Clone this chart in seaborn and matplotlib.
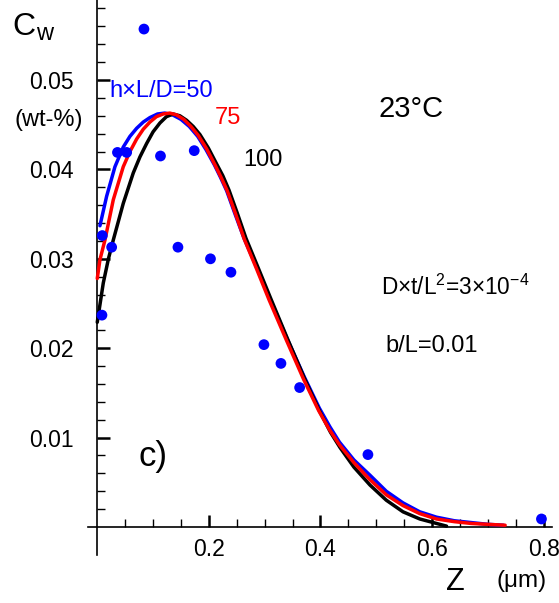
import matplotlib
matplotlib.use("Agg")
import matplotlib.pyplot as plt
import seaborn as sns
import pandas as pd
from matplotlib.ticker import FixedLocator

# ---------------- data ----------------
dot_z = [0.0837, 0.0362, 0.0527, 0.1133, 0.1738, 0.0090, 0.0258, 0.1446,
         0.2029, 0.2396, 0.0084, 0.2987, 0.3292, 0.3627, 0.4851, 0.7961]
dot_cw = [0.0557, 0.0419, 0.0419, 0.0415, 0.0421, 0.0326, 0.0313, 0.0313,
          0.0300, 0.0285, 0.0237, 0.0204, 0.0183, 0.0156, 0.0081, 0.0009]

blue_z = [0.0048, 0.0168, 0.0317, 0.0466, 0.0586, 0.0706, 0.0825, 0.0944, 0.108,
          0.121, 0.135, 0.150, 0.165, 0.180, 0.195, 0.210, 0.221, 0.232, 0.247,
          0.263, 0.286, 0.309, 0.340, 0.371, 0.398, 0.417, 0.434, 0.460, 0.4887,
          0.518, 0.548, 0.578, 0.608, 0.640, 0.670, 0.700, 0.728]
blue_cw = [0.0337, 0.0370, 0.0403, 0.0425, 0.0437, 0.0446, 0.0453, 0.0458, 0.0462,
           0.0463, 0.0461, 0.0456, 0.0448, 0.0437, 0.0422, 0.0405, 0.0391, 0.0376, 0.0350,
           0.0323, 0.0290, 0.0256, 0.0211, 0.0168, 0.0133, 0.0112, 0.0095, 0.0075, 0.0058,
           0.0040, 0.0027, 0.0017, 0.0011, 0.0007, 0.0005, 0.0003, 0.0002]

red_z = [0.000, 0.0048, 0.0138, 0.0287, 0.0466, 0.0586, 0.0706, 0.0825, 0.0944,
         0.106, 0.118, 0.130, 0.142, 0.155, 0.168, 0.181, 0.196, 0.211, 0.222,
         0.233, 0.248, 0.2635, 0.286, 0.308, 0.339, 0.370, 0.397, 0.416, 0.434,
         0.460, 0.4887, 0.518, 0.548, 0.578, 0.608, 0.640, 0.670, 0.700, 0.731]
red_cw = [0.0278, 0.0299, 0.0321, 0.0366, 0.0403, 0.0420, 0.0434, 0.0445, 0.0453,
          0.0459, 0.0462, 0.0463, 0.0461, 0.0456, 0.0448, 0.0438, 0.0423, 0.0405, 0.0391,
          0.0376, 0.0350, 0.0322, 0.0288, 0.0254, 0.0209, 0.0165, 0.0130, 0.0109, 0.0092,
          0.0072, 0.0053, 0.0036, 0.0024, 0.0015, 0.0009, 0.0006, 0.0004, 0.0003, 0.0002]

black_z = [0.000, 0.0108, 0.020, 0.0287, 0.0466, 0.0645, 0.0765, 0.0885, 0.100,
           0.1124, 0.124, 0.136, 0.148, 0.160, 0.172, 0.184, 0.199, 0.214, 0.225,
           0.236, 0.251, 0.2665, 0.289, 0.3113, 0.342, 0.3722, 0.399, 0.418, 0.435,
           0.460, 0.4887, 0.518, 0.548, 0.578, 0.608, 0.626]
black_cw = [0.0229, 0.0273, 0.0300, 0.0321, 0.0362, 0.0396, 0.0414, 0.0429, 0.0442,
            0.0452, 0.0459, 0.0462, 0.0460, 0.0455, 0.0448, 0.0439, 0.0424, 0.0406, 0.0393,
            0.0377, 0.0351, 0.0323, 0.0289, 0.0255, 0.0209, 0.0165, 0.0129, 0.0106, 0.0089,
            0.0067, 0.0047, 0.0030, 0.0017, 0.0009, 0.0004, 0.0001]

series_names = ["50", "100", "75"]          # draw order: blue, black, red on top
series_colors = {"50": "#0000ff", "75": "#ff0000", "100": "#000000"}

y_ticks = [0.01, 0.02, 0.03, 0.04, 0.05]
y_tick_labels = ["0.01", "0.02", "0.03", "0.04", "0.05"]
x_ticks = [0.2, 0.4, 0.6, 0.8]
x_tick_labels = ["0.2", "0.4", "0.6", "0.8"]

# ---------------- figure ----------------
sns.set_theme(style="white")
plt.rcParams['font.family'] = ['Liberation Sans', 'DejaVu Sans']
plt.rcParams['mathtext.fontset'] = 'custom'
plt.rcParams['mathtext.rm'] = 'Liberation Sans'
plt.rcParams['mathtext.it'] = 'Liberation Sans'
plt.rcParams['mathtext.bf'] = 'Liberation Sans'

W, H = 559, 603
fig = plt.figure(figsize=(W / 100, H / 100), dpi=100)
fig.patch.set_facecolor("white")
ax = fig.add_axes([88 / W, 1 - 555 / H, (552 - 88) / W, 555 / H])
ax.set_facecolor("white")

df = pd.concat([
    pd.DataFrame({"z": blue_z, "cw": blue_cw, "s": "50"}),
    pd.DataFrame({"z": black_z, "cw": black_cw, "s": "100"}),
    pd.DataFrame({"z": red_z, "cw": red_cw, "s": "75"}),
], ignore_index=True)

sns.lineplot(data=df, x="z", y="cw", hue="s", hue_order=series_names,
             palette=series_colors, sort=False, estimator=None,
             linewidth=2.5, legend=False, ax=ax, zorder=3)
for line in ax.lines:
    line.set_solid_joinstyle("round")
sns.scatterplot(x=dot_z, y=dot_cw, color="#0000ff", s=60, edgecolor="none",
                linewidth=0, ax=ax, zorder=5)

ax.set_xlim(-0.0166, 0.8150)
ax.set_ylim(-0.00313, 0.05895)

for side in ("top", "right"):
    ax.spines[side].set_visible(False)
ax.spines["left"].set_position(("data", 0))
ax.spines["bottom"].set_position(("data", 0))
for side in ("left", "bottom"):
    ax.spines[side].set_color("black")
    ax.spines[side].set_linewidth(1.2)

ax.set_yticks(y_ticks, labels=y_tick_labels)
ax.set_xticks(x_ticks, labels=x_tick_labels)
ax.yaxis.set_minor_locator(FixedLocator([i * 0.002 for i in range(1, 30) if i % 5 != 0]))
ax.xaxis.set_minor_locator(FixedLocator([i * 0.05 for i in range(1, 16) if i % 4 != 0]))
ax.tick_params(axis="y", which="major", direction="in", length=9.5, width=1.8,
               pad=17, labelsize=16.5, colors="black", left=True)
ax.tick_params(axis="y", which="minor", direction="in", length=6, width=1.0,
               left=True, colors="black")
ax.tick_params(axis="x", which="major", direction="in", length=9, width=1.8,
               pad=8, labelsize=16.5, colors="black", bottom=True)
ax.tick_params(axis="x", which="minor", direction="in", length=6, width=1.0,
               bottom=True, colors="black")
ax.set_xlabel("")
ax.set_ylabel("")
ax.grid(False)


def ftext(px, py, s, size, color="black", **kw):
    fig.text(px / W, 1 - py / H, s, fontsize=size, color=color,
             ha="left", va="baseline", **kw)


ftext(12, 35, "C", 23)
ftext(36, 40, "w", 17)
ftext(14, 126, "(wt-%)", 17)
ftext(109, 97, "h×L/D=50", 17, "#0000ff")
ftext(215, 124, "75", 17, "#ff0000")
ftext(243, 166.5, "100", 17)
ftext(379, 117, "23°C", 21)
ftext(381, 295, r"D×t/L$^{\mathrm{2}}$=3×10$^{\mathrm{-4}}$", 16.3)
ftext(385, 351.5, "b/L=0.01", 17)
ftext(138, 466, "c)", 25)
ftext(446, 590, "Z", 22)
ftext(497, 587, "(μm)", 17.5)

fig.savefig("out.png", dpi=100, facecolor="white")
